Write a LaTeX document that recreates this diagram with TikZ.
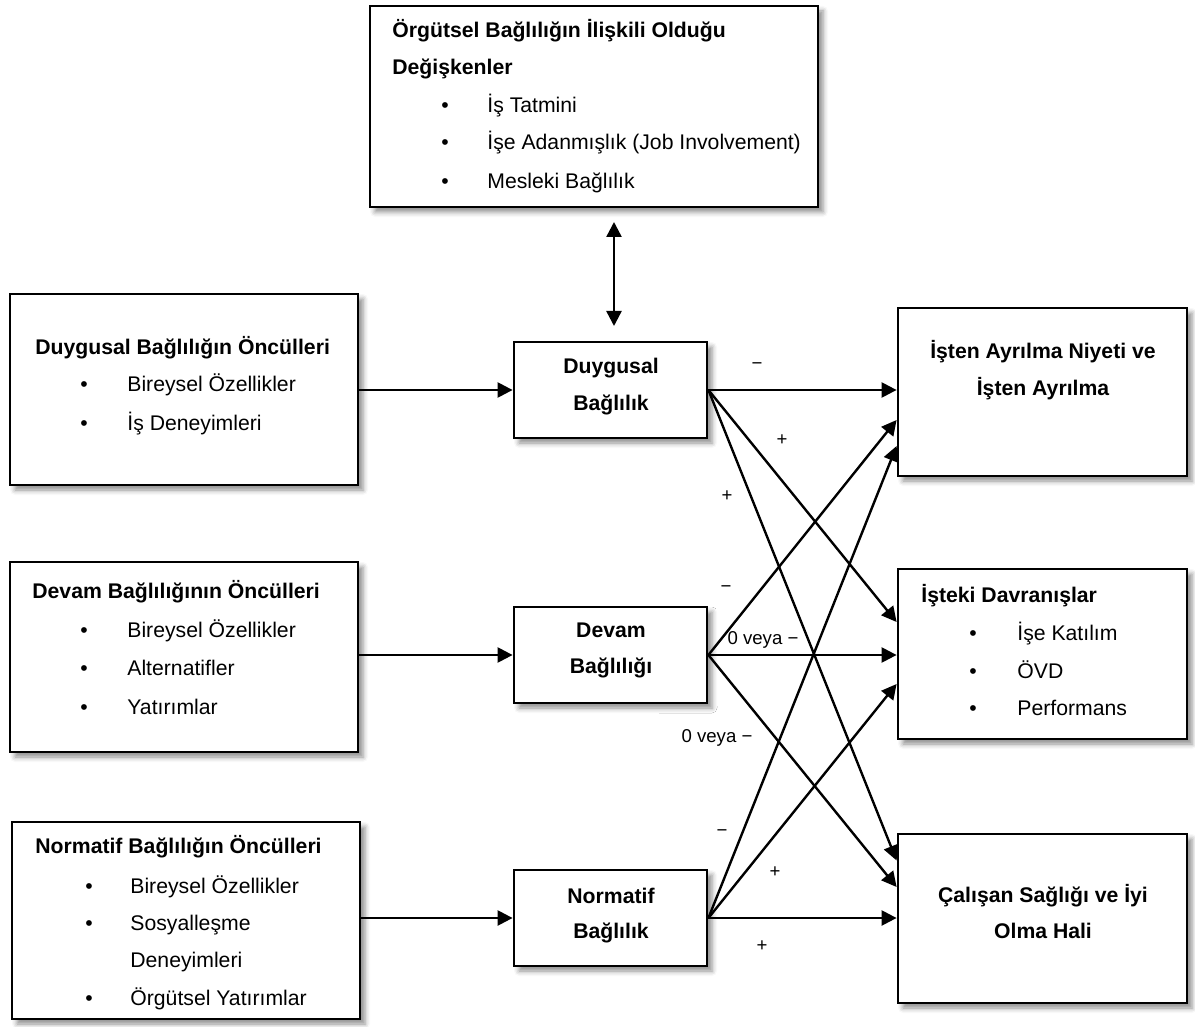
\documentclass[tikz,border=0pt]{standalone}
\usepackage{fontspec}
\setmainfont{Liberation Sans}
\usetikzlibrary{arrows.meta,shadows.blur,calc}

\begin{document}
\begin{tikzpicture}[x=0.5pt,y=-0.5pt,
  box/.style={draw, line width=1.4pt, fill=white, inner sep=0pt,
    blur shadow={shadow xshift=2.5pt, shadow yshift=-2.5pt,
      shadow blur radius=2.5pt, shadow opacity=45}},
  conn/.style={line width=1.2pt, -{Triangle[length=7.5pt,width=7.5pt]}},
  both/.style={line width=1.2pt, {Triangle[length=7.5pt,width=7.5pt]}-{Triangle[length=7.5pt,width=7.5pt]}},
  txt/.style={anchor=base west, inner sep=0pt, font=\fontsize{10.6}{12}\selectfont},
  ttl/.style={txt, font=\fontsize{10.6}{12}\selectfont\bfseries},
  ctr/.style={anchor=base, inner sep=0pt, font=\fontsize{10.6}{12}\selectfont\bfseries},
  blt/.style={anchor=base, inner sep=0pt, font=\fontsize{10.6}{12}\selectfont},
  lbl/.style={inner sep=2pt, fill=white, font=\fontsize{9.3}{11}\selectfont},
]
\useasboundingbox (0,0) rectangle (1195,1027);

% ---------- sign labels (behind the connectors) ----------
\node[lbl] (s1) at (757,366) {−};
\node[lbl] (s2) at (782,440) {+};
\node[lbl] (s3) at (727,496) {+};
\node[lbl, minimum width=22pt, minimum height=20pt] (s4) at (726,589) {−};
\node[lbl] (s5) at (763,640) {0 veya −};
\node[lbl, minimum width=58pt, minimum height=32pt] (s6) at (717,738) {0 veya −};
\node[lbl, minimum width=30pt, minimum height=20pt] (s7) at (722,833) {−};
\node[lbl] (s8) at (775,872) {+};
\node[lbl] (s9) at (762,946) {+};

% ---------- boxes ----------
\node[box, minimum width=224pt, minimum height=100.5pt] (top) at (594,106.5) {};
\node[box, minimum width=174pt, minimum height=95.5pt] (ld) at (184,389.5) {};
\node[box, minimum width=174pt, minimum height=95pt] (lv) at (184,657) {};
\node[box, minimum width=174pt, minimum height=98.5pt] (ln) at (186,920.5) {};
\node[box, minimum width=96.5pt, minimum height=48pt] (dg) at (610.5,390) {};
\node[box, minimum width=96.5pt, minimum height=48pt] (dv) at (610.5,655) {};
\node[box, minimum width=96.5pt, minimum height=48pt] (nr) at (610.5,918) {};
\node[box, minimum width=144.5pt, minimum height=84pt] (ri) at (1042.5,392) {};
\node[box, minimum width=144.5pt, minimum height=85pt] (rd) at (1042.5,654) {};
\node[box, minimum width=144.5pt, minimum height=84.5pt] (rc) at (1042.5,918.5) {};

% ---------- texts: related variables ----------
\node[ttl] (t1) at (392,38) {Örgütsel Bağlılığın İlişkili Olduğu};
\node[ttl] (t2) at (392,75) {Değişkenler};
\node[blt] (t3b) at (445,113) {•};
\node[txt] (t3) at (487,113) {İş Tatmini};
\node[blt] (t4b) at (445,150) {•};
\node[txt] (t4) at (487,150) {İşe Adanmışlık (Job Involvement)};
\node[blt] (t5b) at (445,189) {•};
\node[txt] (t5) at (487,189) {Mesleki Bağlılık};

% ---------- texts: antecedents ----------
\node[ttl] (a1) at (35,355) {Duygusal Bağlılığın Öncülleri};
\node[blt] (a2b) at (84,392) {•};
\node[txt] (a2) at (127,392) {Bireysel Özellikler};
\node[blt] (a3b) at (84,430) {•};
\node[txt] (a3) at (127,430) {İş Deneyimleri};

\node[ttl] (b1) at (32,598) {Devam Bağlılığının Öncülleri};
\node[blt] (b2b) at (84,637) {•};
\node[txt] (b2) at (127,637) {Bireysel Özellikler};
\node[blt] (b3b) at (84,675) {•};
\node[txt] (b3) at (127,675) {Alternatifler};
\node[blt] (b4b) at (84,714) {•};
\node[txt] (b4) at (127,714) {Yatırımlar};

\node[ttl] (c1) at (35,853) {Normatif Bağlılığın Öncülleri};
\node[blt] (c2b) at (89,893) {•};
\node[txt] (c2) at (130,893) {Bireysel Özellikler};
\node[blt] (c3b) at (89,930) {•};
\node[txt] (c3) at (130,930) {Sosyalleşme};
\node[txt] (c4) at (130,967) {Deneyimleri};
\node[blt] (c5b) at (89,1005) {•};
\node[txt] (c5) at (130,1005) {Örgütsel Yatırımlar};

% ---------- texts: commitment types ----------
\node[ctr] (d1) at (611,373) {Duygusal};
\node[ctr] (d2) at (611,410) {Bağlılık};
\node[ctr] (e1) at (611,637) {Devam};
\node[ctr] (e2) at (611,673) {Bağlılığı};
\node[ctr] (f1) at (611,903) {Normatif};
\node[ctr] (f2) at (611,938) {Bağlılık};

% ---------- texts: outcomes ----------
\node[ctr] (g1) at (1043,358) {İşten Ayrılma Niyeti ve};
\node[ctr] (g2) at (1043,395) {İşten Ayrılma};
\node[ttl] (h1) at (921,602) {İşteki Davranışlar};
\node[blt] (h2b) at (973,640) {•};
\node[txt] (h2) at (1017,640) {İşe Katılım};
\node[blt] (h3b) at (973,678) {•};
\node[txt] (h3) at (1017,678) {ÖVD};
\node[blt] (h4b) at (973,715) {•};
\node[txt] (h4) at (1017,715) {Performans};
\node[ctr] (k1) at (1043,902) {Çalışan Sağlığı ve İyi};
\node[ctr] (k2) at (1043,938) {Olma Hali};

% ---------- connectors ----------
\coordinate (ua) at (614,222);
\coordinate (ub) at (614,326);
\draw[both] (ua) -- (ub);

\draw[conn] (ld.east |- dg.west) -- (dg.west);
\draw[conn] (lv.east |- dv.west) -- (dv.west);
\draw[conn] (ln.east |- nr.west) -- (nr.west);

\draw[conn] (dg.east) -- (ri.west |- dg.east);
\draw[conn] (dg.east) -- ([yshift=16pt]rd.west);
\draw[conn] (dg.east) -- ([yshift=29pt]rc.west);

\draw[conn] (dv.east) -- ([yshift=-14pt]ri.west);
\draw[conn] (dv.east) -- (rd.west |- dv.east);
\draw[conn] (dv.east) -- ([yshift=15.75pt]rc.west);

\draw[conn] (nr.east) -- ([yshift=-27pt]ri.west);
\draw[conn] (nr.east) -- ([yshift=-15pt]rd.west);
\draw[conn] (nr.east) -- (rc.west |- nr.east);
\end{tikzpicture}
\end{document}
